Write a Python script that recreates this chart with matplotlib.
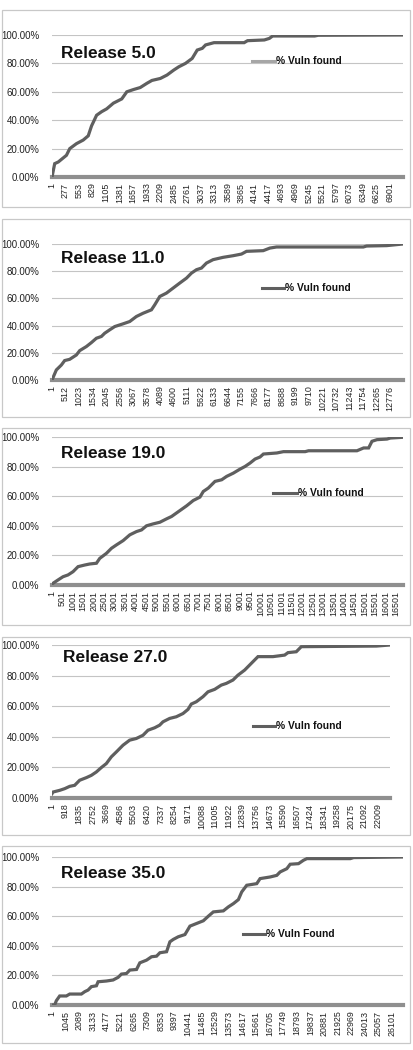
import matplotlib
matplotlib.use("Agg")
import matplotlib.pyplot as plt
from matplotlib.patches import Rectangle

plt.rcParams['font.family'] = ['Liberation Sans', 'DejaVu Sans']

# ---------------- data ----------------
titles = ["Release 5.0", "Release 11.0", "Release 19.0", "Release 27.0", "Release 35.0"]
legend_labels = ["% Vuln found", "% Vuln found", "% Vuln found", "% Vuln found", "% Vuln Found"]
n_points = [7170, 13267, 16837, 22819, 26946]
tick_steps = [276, 511, 500, 917, 1044]

rel5_idx = [1, 56, 130, 296, 364, 501, 638, 741, 809, 912, 1015, 1118, 1255, 1426, 1529,
            1666, 1803, 1940, 2042, 2214, 2350, 2488, 2590, 2727, 2864, 2967, 3070, 3138,
            3310, 3926, 3995, 4337, 4440, 4508, 5365, 5440, 7170]
rel5_pct = [0, 9.4, 10.6, 15.3, 20.0, 23.5, 26.0, 29.0, 36.0, 43.5, 46.0, 48.0, 52.0, 55.0, 60.0,
            61.6, 63.0, 66.0, 68.0, 69.4, 71.8, 75.3, 77.6, 80.0, 83.5, 89.4, 90.6, 93.0,
            94.6, 94.6, 96.0, 96.5, 97.6, 99.3, 99.3, 99.8, 100.0]

rel11_idx = [1, 165, 354, 480, 669, 922, 1048, 1300, 1489, 1678, 1867, 1993, 2183, 2372, 2687,
             2939, 3191, 3444, 3759, 3885, 4074, 4327, 4579, 4831, 5083, 5272, 5461, 5650, 5839,
             6091, 6470, 6848, 7163, 7352, 7983, 8235, 8487, 11766, 11893, 12650, 13267]
rel11_pct = [0, 7.4, 11.0, 14.3, 15.2, 18.4, 21.6, 24.6, 27.5, 30.7, 32.0, 34.4, 36.9, 39.3, 41.3,
             43.0, 46.7, 49.1, 51.6, 55.3, 61.4, 63.9, 67.6, 71.3, 74.9, 78.6, 81.1, 82.3, 86.0,
             88.5, 90.2, 91.4, 92.6, 94.6, 95.1, 97.0, 97.8, 97.8, 98.5, 98.8, 100.0]

rel19_idx = [1, 289, 530, 770, 1010, 1251, 1571, 1811, 2132, 2292, 2612, 2853, 3093, 3413, 3734,
             4054, 4294, 4535, 4855, 5175, 5496, 5736, 6137, 6457, 6777, 7098, 7258, 7498, 7819,
             8139, 8379, 8700, 9020, 9261, 9501, 9741, 9981, 10142, 10783, 11103, 12144, 12305,
             14628, 14948, 15188, 15349, 15589, 16069, 16229, 16837]
rel19_pct = [0.7, 3.4, 5.6, 6.8, 9.0, 12.4, 13.5, 14.2, 14.7, 18.0, 21.4, 24.8, 27.1, 30.0, 33.9,
             36.1, 37.2, 40.0, 41.3, 42.4, 44.7, 46.3, 50.3, 53.5, 57.1, 59.4, 63.2, 65.5, 70.0,
             71.1, 73.4, 75.6, 78.3, 80.1, 82.4, 85.1, 86.5, 88.5, 89.2, 90.1, 90.1, 90.7,
             90.7, 92.6, 92.6, 97.1, 98.2, 98.6, 99.3, 99.8]

rel27_idx = [1, 70, 518, 856, 1193, 1531, 1868, 2318, 2656, 2993, 3331, 3669, 4006, 4344, 4794,
             5243, 5693, 6143, 6481, 6931, 7268, 7493, 7943, 8393, 8843, 9181, 9406, 9743, 10193,
             10531, 10981, 11431, 11768, 12218, 12556, 13006, 13343, 13681, 13906, 14918, 15706,
             15931, 16493, 16831, 21894, 22819]
rel27_pct = [2.8, 3.9, 5.0, 6.1, 7.6, 8.3, 11.6, 13.3, 14.8, 17.0, 19.9, 22.5, 26.9, 30.1, 34.5,
             37.8, 38.9, 41.0, 44.3, 45.9, 47.6, 49.8, 52.0, 53.1, 55.2, 57.9, 61.4, 62.9, 66.2,
             69.4, 71.0, 73.8, 74.9, 77.1, 80.3, 83.6, 86.9, 90.2, 92.4, 92.4, 93.4,
             95.0, 95.6, 98.9, 99.3, 100.0]

rel35_idx = [1, 206, 334, 591, 1104, 1360, 2257, 2514, 2770, 3027, 3411, 3539, 4180, 4693, 5078,
             5334, 5719, 5975, 6488, 6744, 7257, 7642, 8026, 8283, 8796, 9052, 9309, 9693, 10206,
             10591, 11104, 11617, 12001, 12386, 13155, 13540, 13924, 14309, 14565, 14950, 15719,
             15975, 16744, 17257, 17513, 18026, 18283, 18924, 19308, 19565, 22898, 23154, 26946]
rel35_pct = [0, 0, 2.9, 6.1, 6.1, 7.4, 7.4, 9.0, 10.1, 12.4, 13.0, 15.7, 16.2, 16.9, 18.7,
             20.9, 21.3, 23.6, 24.0, 28.5, 30.3, 32.6, 33.0, 35.3, 36.0, 42.7, 44.3, 46.1, 47.6,
             53.3, 55.1, 56.9, 60.0, 62.9, 63.6, 66.3, 68.5, 71.2, 76.4, 80.9, 82.0,
             85.4, 86.5, 87.6, 89.9, 92.1, 95.1, 95.5, 97.8, 98.9, 98.9, 99.6, 100.0]

series_idx = [rel5_idx, rel11_idx, rel19_idx, rel27_idx, rel35_idx]
series_pct = [rel5_pct, rel11_pct, rel19_pct, rel27_pct, rel35_pct]

# ---------------- layout (pixels) ----------------
W, H = 414, 1050
fig = plt.figure(figsize=(W / 100, H / 100), dpi=100)

borders = [(2, 10, 408, 197), (2, 219, 408, 198), (2, 428, 408, 197), (2, 637, 408, 198), (2, 846, 408, 197)]
axes_px = [(52, 35, 403, 177), (52, 244, 403, 380), (52, 437, 403, 585), (52, 645, 390, 798), (52, 857, 403, 1005)]
title_px = [(61, 53), (61, 258), (61, 453), (63, 658), (61, 873)]
legend_px = [(252, 61), (262, 288), (273, 493), (253, 726), (243, 934)]
legend_len = [23, 22, 24, 22, 22]
legend_colors = ["#a6a6a6", "#5f5f5f", "#5f5f5f", "#5f5f5f", "#5f5f5f"]

def fx(px):
    return px / W

def fy(py):
    return 1 - py / H

line_color = "#5f5f5f"

for i in range(5):
    bx, by, bw, bh = borders[i]
    fig.patches.append(Rectangle((fx(bx), fy(by + bh)), bw / W, bh / H, transform=fig.transFigure,
                                 fill=False, edgecolor="#c8c8c8", linewidth=0.9))
    x0, y0, x1, y1 = axes_px[i]
    ax = fig.add_axes([fx(x0), fy(y1), (x1 - x0) / W, (y1 - y0) / H])
    N = n_points[i]
    ax.set_xlim(1, N)
    ax.set_ylim(0, 100)
    for v in [20, 40, 60, 80, 100]:
        ax.axhline(v, color="#c4c4c4", lw=0.8, zorder=1)
    ax.axhline(0, color="#8f8f8f", lw=3.0, zorder=2, clip_on=False)
    ax.plot(series_idx[i], series_pct[i], color=line_color, lw=2.3, zorder=3,
            solid_joinstyle="miter")
    for s in ax.spines.values():
        s.set_visible(False)
    ax.set_yticks([0, 20, 40, 60, 80, 100])
    ax.set_yticklabels(["%.2f%%" % v for v in [0, 20, 40, 60, 80, 100]], fontsize=7.0)
    ticks = list(range(1, N + 1, tick_steps[i]))
    ax.set_xticks(ticks)
    ax.set_xticklabels([str(t) for t in ticks], rotation=90, fontsize=6.4)
    ax.tick_params(axis="both", length=0, colors="#222222")
    ax.tick_params(axis="y", pad=9)
    ax.tick_params(axis="x", pad=4)
    # title
    tx, ty = title_px[i]
    fig.text(fx(tx), fy(ty), titles[i], fontsize=12.5, fontweight="bold", va="center", ha="left",
             color="#111111")
    # legend
    lx, ly = legend_px[i]
    fig.add_artist(plt.Line2D([fx(lx), fx(lx + legend_len[i])], [fy(ly), fy(ly)],
                              transform=fig.transFigure, color=legend_colors[i], lw=2.2))
    fig.text(fx(lx + legend_len[i] + 1), fy(ly), legend_labels[i], fontsize=7.4, fontweight="bold",
             va="center", ha="left", color="#111111")

fig.savefig("out.png", dpi=100, facecolor="white")
